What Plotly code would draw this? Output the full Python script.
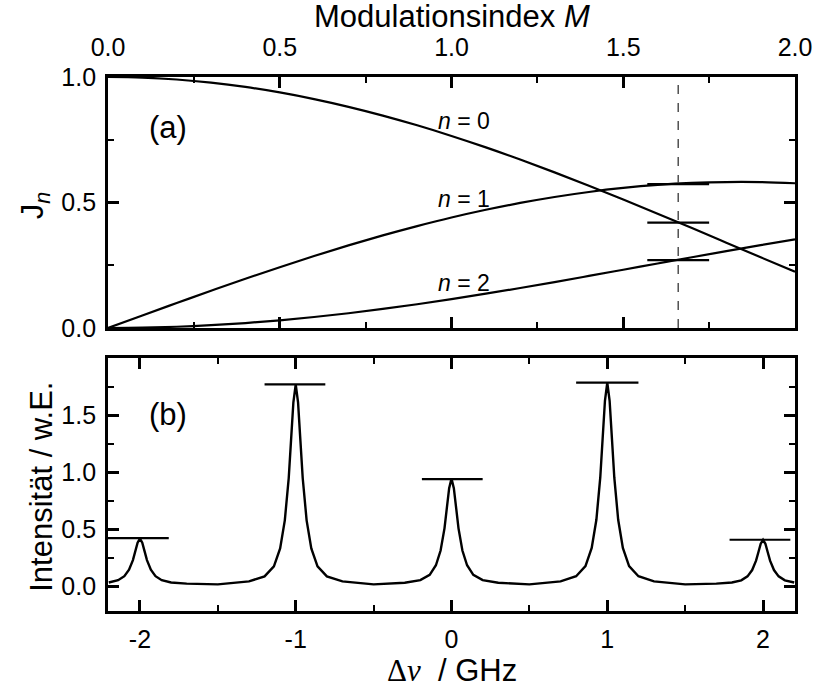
import plotly.graph_objects as go

# (a) Bessel amplitudes J_n versus modulation index M
M = [0.0, 0.1, 0.2, 0.3, 0.4, 0.5, 0.6, 0.7, 0.8, 0.9, 1.0,
     1.1, 1.2, 1.3, 1.4, 1.5, 1.6, 1.7, 1.8, 1.9, 2.0]
J0 = [1.0, 0.9975, 0.9900, 0.9776, 0.9604, 0.9385, 0.9120, 0.8812, 0.8463, 0.8075, 0.7652,
      0.7196, 0.6711, 0.6201, 0.5669, 0.5118, 0.4554, 0.3980, 0.3400, 0.2818, 0.2239]
J1 = [0.0, 0.0499, 0.0995, 0.1483, 0.1960, 0.2423, 0.2867, 0.3290, 0.3688, 0.4059, 0.4401,
      0.4709, 0.4983, 0.5220, 0.5419, 0.5579, 0.5699, 0.5778, 0.5815, 0.5812, 0.5767]
J2 = [0.0, 0.0013, 0.0050, 0.0112, 0.0197, 0.0306, 0.0437, 0.0588, 0.0758, 0.0946, 0.1149,
      0.1366, 0.1593, 0.1830, 0.2074, 0.2321, 0.2570, 0.2817, 0.3061, 0.3299, 0.3528]
curve_labels = ["<i>n</i> = 0", "<i>n</i> = 1", "<i>n</i> = 2"]
label_y = [0.825, 0.514, 0.179]

M_mark = 1.66
mark_M = [1.57, 1.75]
mark_J = [0.573, 0.420, 0.270]

# (b) spectrum
dnu = [-2.2, -2.14, -2.1, -2.07, -2.045, -2.03, -2.015, -2.0, -1.985, -1.97, -1.955, -1.93, -1.9, -1.86, -1.8, -1.7, -1.5,
       -1.3, -1.2, -1.14, -1.1, -1.07, -1.045, -1.03, -1.015, -1.0, -0.985, -0.97, -0.955, -0.93, -0.9, -0.86, -0.8, -0.7, -0.5,
       -0.3, -0.2, -0.14, -0.1, -0.07, -0.045, -0.03, -0.015, 0.0, 0.015, 0.03, 0.045, 0.07, 0.1, 0.14, 0.2, 0.3, 0.5,
       0.7, 0.8, 0.86, 0.9, 0.93, 0.955, 0.97, 0.985, 1.0, 1.015, 1.03, 1.045, 1.07, 1.1, 1.14, 1.2, 1.3, 1.5,
       1.7, 1.8, 1.86, 1.9, 1.93, 1.955, 1.97, 1.985, 2.0, 2.015, 2.03, 2.045, 2.07, 2.1, 2.14, 2.2]
intens = [0.036, 0.056, 0.092, 0.148, 0.232, 0.308, 0.384, 0.42, 0.384, 0.308, 0.232, 0.148, 0.092, 0.056, 0.036, 0.026, 0.02,
          0.046, 0.09, 0.178, 0.335, 0.58, 0.948, 1.28, 1.613, 1.77, 1.613, 1.28, 0.948, 0.58, 0.335, 0.178, 0.09, 0.046, 0.02,
          0.034, 0.057, 0.103, 0.187, 0.316, 0.51, 0.686, 0.862, 0.945, 0.862, 0.686, 0.51, 0.316, 0.187, 0.103, 0.057, 0.034, 0.02,
          0.046, 0.091, 0.179, 0.338, 0.585, 0.955, 1.291, 1.626, 1.785, 1.626, 1.291, 0.955, 0.585, 0.338, 0.179, 0.091, 0.046, 0.02,
          0.026, 0.036, 0.055, 0.090, 0.145, 0.227, 0.301, 0.375, 0.41, 0.375, 0.301, 0.227, 0.145, 0.090, 0.055, 0.036]
bar_lo = [-2.21, -1.2, -0.19, 0.8, 1.785]
bar_hi = [-1.815, -0.81, 0.2, 1.2, 2.175]
bar_h = [0.425, 1.77, 0.94, 1.785, 0.41]
dnu_ticks = [-2, -1, 0, 1, 2]
dnu_ticktext = ["-2", "-1", "0", "1", "2"]

FONT = "Liberation Sans, Arial, sans-serif"
TICKSIZE = 25
TITLESIZE = 31

fig = go.Figure()

for J in [J0, J1, J2]:
    fig.add_trace(go.Scatter(x=M, y=J, mode="lines", line=dict(color="black", width=2.2, shape="spline"),
                             xaxis="x", yaxis="y"))
fig.add_trace(go.Scatter(x=[M_mark, M_mark], y=[0, 1], mode="lines",
                         line=dict(color="#444444", width=1.4, dash="dash"), xaxis="x", yaxis="y"))
for v in mark_J:
    fig.add_trace(go.Scatter(x=mark_M, y=[v, v], mode="lines", line=dict(color="black", width=2.2),
                             xaxis="x", yaxis="y"))

fig.add_trace(go.Scatter(x=dnu, y=intens, mode="lines", line=dict(color="black", width=2.4),
                         xaxis="x2", yaxis="y2"))
for lo, hi, h in zip(bar_lo, bar_hi, bar_h):
    fig.add_trace(go.Scatter(x=[lo, hi], y=[h, h], mode="lines", line=dict(color="black", width=2.2),
                             xaxis="x2", yaxis="y2"))

minor = dict(ticklen=6, tickwidth=1.5, ticks="inside", tickcolor="black")
ax = dict(showline=True, linecolor="black", linewidth=2.8, mirror="ticks", ticks="inside",
          ticklen=11, tickwidth=2.5, tickcolor="black", showgrid=False, zeroline=False,
          tickfont=dict(family=FONT, size=TICKSIZE, color="black"))

fig.update_layout(
    width=814, height=688,
    margin=dict(l=108, r=19, t=77, b=77, autoexpand=False),
    paper_bgcolor="white", plot_bgcolor="white",
    showlegend=False,
    xaxis=dict(ax, domain=[0, 1], range=[0, 2], side="top", anchor="y", dtick=0.5, tick0=0,
               tickformat=".1f", ticklabelstandoff=8, minor=dict(minor, dtick=0.25)),
    yaxis=dict(ax, domain=[0.53, 1], range=[0, 1], anchor="x", dtick=0.5, tickformat=".1f",
               ticklabelstandoff=4, minor=dict(minor, dtick=0.25)),
    xaxis2=dict(ax, domain=[0, 1], range=[-2.205, 2.205], anchor="y2", tickvals=dnu_ticks,
                ticktext=dnu_ticktext, ticklabelstandoff=4,
                minor=dict(minor, dtick=0.5, tick0=0)),
    yaxis2=dict(ax, domain=[0, 0.4738], range=[-0.213, 2.0], anchor="x2", tickvals=[0, 0.5, 1.0, 1.5],
                tickformat=".1f", ticklabelstandoff=4,
                minor=dict(minor, tickvals=[0.25, 0.75, 1.25, 1.75])),
)

title_font = dict(family=FONT, size=TITLESIZE, color="black")
centre = dict(xref="paper", yref="paper", showarrow=False, xanchor="center", yanchor="middle", font=title_font)
annotations = [
    dict(centre, x=0.5, y=1.114, text="Modulationsindex <i>M</i>"),
    dict(centre, x=0.5, y=-0.111,
         text="<span style='font-family:Liberation Serif'>Δ<i>ν</i></span>  / GHz"),
    dict(centre, x=-0.106, y=0.76, text="J<sub><i>n</i></sub>", textangle=-90),
    dict(centre, x=-0.098, y=0.232, text="Intensität / w.E.", textangle=-90),
    dict(x=0.175, y=0.797, xref="x", yref="y", text="(a)", showarrow=False,
         font=dict(family=FONT, size=31, color="black")),
    dict(x=-1.82, y=1.51, xref="x2", yref="y2", text="(b)", showarrow=False,
         font=dict(family=FONT, size=31, color="black")),
]
for txt, yy in zip(curve_labels, label_y):
    annotations.append(dict(x=1.037, y=yy, xref="x", yref="y", text=txt, showarrow=False,
                            font=dict(family=FONT, size=23, color="black")))
fig.update_layout(annotations=annotations)

fig.write_html("out.html", config={"displayModeBar": False},
               post_script="document.body.style.margin='0';document.body.style.overflow='hidden';")
